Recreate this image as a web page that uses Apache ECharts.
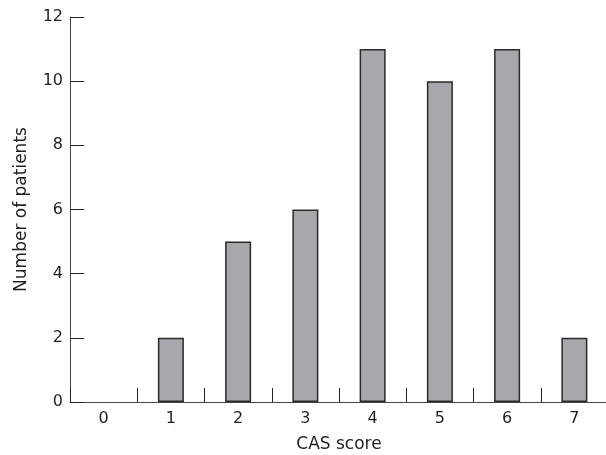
<!DOCTYPE html>
<html>
<head>
<meta charset="utf-8">
<script src="https://cdn.jsdelivr.net/npm/echarts@6/dist/echarts.min.js"></script>
<style>
html,body{margin:0;padding:0;background:#fff;}
#chart{width:606px;height:455px;}
</style>
</head>
<body>
<div id="chart"></div>
<script>
const categories = ['0','1','2','3','4','5','6','7'];
const patients = [0, 2, 5, 6, 11, 10, 11, 2];
const yMin = 0, yMax = 12, yInterval = 2;
const xTitle = 'CAS score';
const yTitle = 'Number of patients';

const font = 'DejaVu Sans';
const textColor = '#231f20';
const chart = echarts.init(document.getElementById('chart'));
chart.setOption({
  animation: false,
  grid: {left: 70, right: -2, top: 17, bottom: 53, outerBoundsMode: 'none', containLabel: false},
  xAxis: {
    type: 'category',
    data: categories,
    name: xTitle,
    nameLocation: 'middle',
    nameGap: 34,
    nameTextStyle: {fontFamily: font, fontSize: 17, color: textColor},
    axisLine: {lineStyle: {color: '#444', width: 1}},
    axisTick: {show: true, inside: true, length: 14, alignWithLabel: false, lineStyle: {color: '#222', width: 1},
      interval: 0},
    axisLabel: {fontFamily: font, fontSize: 16, color: textColor, margin: 9},
    splitLine: {show: false}
  },
  yAxis: {
    type: 'value',
    min: yMin, max: yMax, interval: yInterval,
    name: yTitle,
    nameLocation: 'middle',
    nameGap: 40,
    nameTextStyle: {fontFamily: font, fontSize: 17, color: textColor},
    axisLine: {show: true, lineStyle: {color: '#444', width: 1}},
    axisTick: {show: true, inside: true, length: 14, lineStyle: {color: '#222', width: 1}},
    axisLabel: {fontFamily: font, fontSize: 16, color: textColor, margin: 7},
    splitLine: {show: false}
  },
  series: [{
    type: 'bar',
    data: patients.map(v => v === 0 ? {value: v, itemStyle: {borderWidth: 0}} : v),
    barWidth: 26,
    itemStyle: {color: '#a7a8ab', borderColor: '#2a2a2a', borderWidth: 1.5}
  }]
});
</script>
</body>
</html>
